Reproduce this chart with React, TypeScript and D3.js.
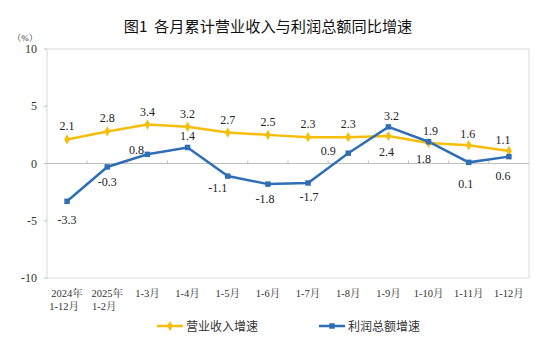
import React from "react";
import * as d3 from "d3";

const categories = ["2024年\n1-12月", "2025年\n1-2月", "1-3月", "1-4月", "1-5月", "1-6月", "1-7月", "1-8月", "1-9月", "1-10月", "1-11月", "1-12月"];
const revenue = [2.1, 2.8, 3.4, 3.2, 2.7, 2.5, 2.3, 2.3, 2.4, 1.8, 1.6, 1.1];
const profit = [-3.3, -0.3, 0.8, 1.4, -1.1, -1.8, -1.7, 0.9, 3.2, 1.9, 0.1, 0.6];
const yTicks = [10, 5, 0, -5, -10];
// label placement: dx, dy relative to point
const revLabelPos: [number, number][] = [
  [0, -13], [0, -13], [0, -13], [0, -13], [0, -13], [0, -13], [0, -13], [0, -13], [-2, 16], [-5, 16], [-1, -11], [-6, -11],
];
const profLabelPos: [number, number][] = [
  [0, 19], [0, 15], [-11, -4], [0, -11], [-10, 12], [-3, 15], [1, 14], [-20, -2], [3, -11], [2, -11], [-3, 22], [-6, 19],
];

const W = 545, H = 345;
const left = 47, right = 529, top = 49, bottom = 278;
const YELLOW = "#F5BE0A";
const BLUE = "#2F6EB5";
const SERIF = "'Liberation Serif', 'Noto Serif CJK SC', serif";
const SANS = "'Noto Sans CJK SC', sans-serif";

export default function App() {
  const x = d3.scaleBand<number>().domain(d3.range(categories.length)).range([left, right]);
  const y = d3.scaleLinear().domain([-10, 10]).range([bottom, top]);
  const cx = (i: number) => (x(i) as number) + x.bandwidth() / 2;
  const line = d3.line<number>().x((_, i) => cx(i)).y((d) => y(d));
  const fmt = (v: number) => v.toFixed(1);
  const diamond = d3.symbol().type(d3.symbolDiamond).size(30)();
  const square = d3.symbol().type(d3.symbolSquare).size(30)();

  return (
    <svg width={W} height={H} style={{ position: "absolute", left: 0, top: 0, background: "#fff" }}>
      <text x={268} y={32} textAnchor="middle" fontFamily={SANS} fontSize={15.2} fill="#111">{"图1\u00A0\u00A0各月累计营业收入与利润总额同比增速"}</text>
      <text x={25} y={41} textAnchor="middle" fontFamily={SERIF} fontSize={9} fill="#333">（%）</text>
      {/* frame */}
      <rect x={left} y={top} width={right - left} height={bottom - top} fill="none" stroke="#D9D9D9" strokeWidth={1} />
      {/* zero line */}
      <line x1={left} x2={right} y1={y(0)} y2={y(0)} stroke="#BFBFBF" strokeWidth={1} />
      {d3.range(1, categories.length).map((i) => (
        <line key={i} x1={x(i) as number} x2={x(i) as number} y1={y(0) - 3} y2={y(0)} stroke="#BFBFBF" />
      ))}
      {yTicks.map((t) => (
        <g key={t}>
          <line x1={left - 3} x2={left} y1={y(t)} y2={y(t)} stroke="#BFBFBF" />
          <text x={37} y={y(t) + 4} textAnchor="end" fontFamily={SERIF} fontSize={12} fill="#333">{t}</text>
        </g>
      ))}
      {categories.map((c, i) => (
        <text key={i} x={cx(i)} y={297} textAnchor="middle" fontFamily={SERIF} fontSize={10.5} fill="#333">
          {c.split("\n").map((s, j) => (
            <tspan key={j} x={cx(i) - (j === 1 ? 3 : 0)} dy={j === 0 ? 0 : 13}>{s}</tspan>
          ))}
        </text>
      ))}
      <path d={line(revenue) || ""} fill="none" stroke={YELLOW} strokeWidth={2.5} />
      <path d={line(profit) || ""} fill="none" stroke={BLUE} strokeWidth={2.5} />
      {revenue.map((v, i) => (
        <path key={"r" + i} d={diamond || ""} transform={`translate(${cx(i)},${y(v)})`} fill={YELLOW} />
      ))}
      {profit.map((v, i) => (
        <path key={"p" + i} d={square || ""} transform={`translate(${cx(i)},${y(v)})`} fill={BLUE} />
      ))}
      {revenue.map((v, i) => (
        <text key={"rl" + i} x={cx(i) + revLabelPos[i][0]} y={y(v) + revLabelPos[i][1] + 4} textAnchor="middle" fontFamily={SERIF} fontSize={12} fill="#222">{fmt(v)}</text>
      ))}
      {profit.map((v, i) => (
        <text key={"pl" + i} x={cx(i) + profLabelPos[i][0]} y={y(v) + profLabelPos[i][1] + 4} textAnchor="middle" fontFamily={SERIF} fontSize={12} fill="#222">{fmt(v)}</text>
      ))}
      {/* legend */}
      <g>
        <line x1={157} x2={183} y1={326} y2={326} stroke={YELLOW} strokeWidth={2.5} />
        <path d={diamond || ""} transform="translate(170,326)" fill={YELLOW} />
        <text x={186} y={330.5} fontFamily={SANS} fontSize={12} fill="#333">营业收入增速</text>
        <line x1={319} x2={345} y1={326} y2={326} stroke={BLUE} strokeWidth={2.5} />
        <path d={square || ""} transform="translate(332,326)" fill={BLUE} />
        <text x={348} y={330.5} fontFamily={SANS} fontSize={12} fill="#333">利润总额增速</text>
      </g>
    </svg>
  );
}
